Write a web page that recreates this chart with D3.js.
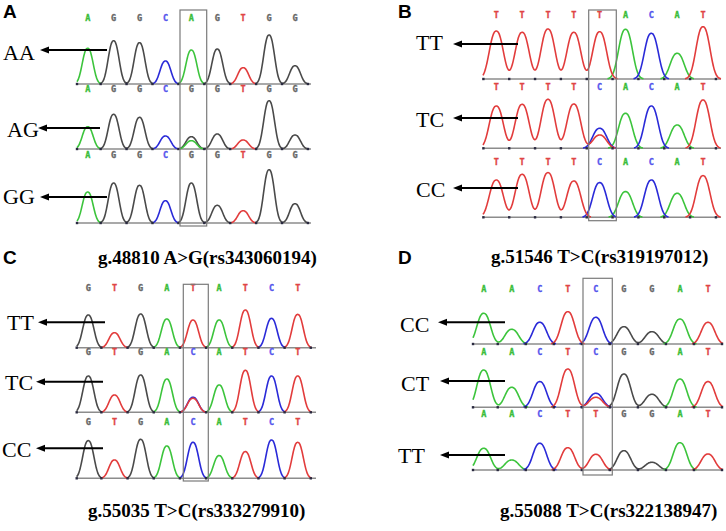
<!DOCTYPE html>
<html>
<head>
<meta charset="utf-8">
<script src="https://cdn.jsdelivr.net/npm/d3@7"></script>
<style>
  html, body { margin: 0; padding: 0; background: #fff; }
  svg { display: block; }
</style>
</head>
<body>
<svg id="chart" width="726" height="531"></svg>
<script>
// ---- data ----
const panelIds = ["A", "B", "C", "D"];
const captions = [
  "g.48810 A>G(rs343060194)",
  "g.51546 T>C(rs319197012)",
  "g.55035 T>C(rs333279910)",
  "g.55088 T>C(rs322138947)"
];
const genotypes = [
  ["AA", "AG", "GG"],
  ["TT", "TC", "CC"],
  ["TT", "TC", "CC"],
  ["CC", "CT", "TT"]
];
const baseCalls = [
  ["AGGCAGTGG", "AGGCGGTGG", "AGGCGGTGG"],
  ["TTTTTACAT", "TTTTCACAT", "TTTTCACAT"],
  ["GTGATATCT", "GTGACATCT", "GTGACATCT"],
  ["AACTCGGAT", "AACTCGGAT", "AACTTGGAT"]
];
// peak height of the called base, one value per base
const peakHeights = [
  [[35.7, 43.3, 41.3, 23, 34, 35, 16.3, 49, 18.3],
   [22.3, 34.7, 31.7, 13, 12.3, 15, 9, 48.3, 14],
   [31, 40, 37.7, 22.3, 40, 17.7, 12.3, 53.3, 19.3]],
  [[48, 46.7, 50, 46.7, 47.3, 49.7, 45.7, 25.7, 52.3],
   [42.3, 44, 49, 44.3, 20, 35, 42.3, 23.3, 48.3],
   [37.3, 43, 44.7, 36.3, 34.7, 25.7, 37.3, 24, 41.7]],
  [[32.7, 15, 33.7, 28.7, 27.7, 27.7, 37.7, 29.3, 33.3],
   [36.3, 17.3, 37.3, 33.3, 15, 27.3, 42, 36.3, 36.3],
   [37.7, 18.3, 39, 32.3, 36, 22.7, 26.7, 38.3, 36]],
  [[30.7, 14.7, 21.7, 32.3, 26.7, 17.3, 12.3, 25, 21.7],
   [37.3, 20, 25.7, 38.3, 14, 33.3, 13, 28.3, 25.7],
   [21.7, 10, 26.7, 22.3, 15.7, 19.3, 7.7, 27.3, 16]]
];
// second (minor) peak under the SNP in heterozygous rows
const minorPeaks = [
  [null, ["A", 8.3], null],
  [null, ["T", 13.3], null],
  [null, ["T", 14], null],
  [null, ["T", 10], null]
];
const snpIndex = 4;

// ---- layout (pixels) ----
const layout = [
  {x0: 87.7, x1: 295, t0: 77, t1: 311, width: 7,
   base: [84, 149, 223], letterY: [21, 92, 157.5], box: [180, 10, 206.7, 226],
   tag: [3, 18.3], cap: [98, 264],
   labels: [[3, 60], [7, 137], [3, 204]],
   arrows: [[107, 40, 50], [100, 38, 128], [107, 40, 197]]},
  {x0: 496.3, x1: 703, t0: 483, t1: 721, width: 9,
   base: [79, 148.3, 217.3], letterY: [18, 90, 165], box: [588.7, 10, 616.3, 220.7],
   tag: [398, 17.5], cap: [491, 263],
   labels: [[416, 50], [416, 126.7], [416, 197]],
   arrows: [[518, 453, 44], [518, 453, 118], [518, 453, 188]]},
  {x0: 88.3, x1: 297.7, t0: 76.7, t1: 316, width: 7.2,
   base: [347.7, 412.3, 478.3], letterY: [291, 355, 424.5], box: [183.3, 284.3, 208.3, 481],
   tag: [3, 263.5], cap: [88, 516.7],
   labels: [[7, 330], [5, 390], [2, 456.7]],
   arrows: [[105, 38, 322.3], [103, 36, 381.7], [103, 36, 448.3]]},
  {x0: 483.7, x1: 708, t0: 473, t1: 723, width: 8.8,
   base: [344, 407.3, 470], letterY: [291.5, 355, 416.5], box: [583, 278.3, 612.3, 475],
   tag: [398, 263.5], cap: [500, 516.7],
   labels: [[400, 331.7], [401, 391], [398, 463]],
   arrows: [[505, 438, 322.3], [505, 440, 381], [505, 440, 455]]}
];

const traceColor = {A: "#3cc43c", G: "#4a4a4a", C: "#2a2ad8", T: "#e23c3c"};
const letterColor = {A: "#3bbd3b", G: "#666666", C: "#5555ec", T: "#e04444"};

// shape of one dye peak: a flattened bell
function bell(d, w) {
  return Math.exp(-Math.pow(Math.abs(d) / w, 2.4));
}

const svg = d3.select("#chart");

panelIds.forEach((id, p) => {
  const L = layout[p];
  const g = svg.append("g").attr("class", "panel-" + id);
  const x = d3.scaleLinear().domain([0, 8]).range([L.x0, L.x1]);

  // panel tag
  g.append("text")
    .attr("x", L.tag[0]).attr("y", L.tag[1])
    .attr("font-family", "Liberation Sans, Arial, sans-serif")
    .attr("font-weight", "bold").attr("font-size", 19)
    .text(id);

  baseCalls[p].forEach((seq, r) => {
    const y = d3.scaleLinear().domain([0, 60]).range([L.base[r], L.base[r] - 60]);
    const bases = seq.split("");

    // all peaks of this row
    const peaks = bases.map((b, i) => ({base: b, i: i, h: peakHeights[p][r][i]}));
    if (minorPeaks[p][r]) peaks.push({base: minorPeaks[p][r][0], i: snpIndex, h: minorPeaks[p][r][1]});

    // base letters
    g.append("g").selectAll("text")
      .data(bases)
      .join("text")
      .attr("x", (d, i) => x(i))
      .attr("y", L.letterY[r])
      .attr("text-anchor", "middle")
      .attr("font-family", "DejaVu Sans Mono, monospace")
      .attr("font-weight", "bold")
      .attr("font-size", 8.5)
      .attr("fill", d => letterColor[d])
      .attr("stroke", d => letterColor[d])
      .attr("stroke-width", 0.35)
      .text(d => d);

    // baseline
    g.append("line")
      .attr("x1", L.t0).attr("x2", L.t1)
      .attr("y1", y(0)).attr("y2", y(0))
      .attr("stroke", "#8c8c8c").attr("stroke-width", 1.6);

    // one trace per dye channel, drawn where the signal is above baseline
    const xs = d3.range(L.t0, L.t1 + 0.01, 0.5);
    ["G", "A", "C", "T"].forEach(ch => {
      const chPeaks = peaks.filter(d => d.base === ch);
      if (!chPeaks.length) return;
      const pts = xs.map(px => ({
        px: px,
        v: d3.sum(chPeaks, d => d.h * bell(px - x(d.i), L.width))
      }));
      const line = d3.line()
        .defined(d => d.v > 0.25)
        .x(d => d.px)
        .y(d => y(d.v))
        .curve(d3.curveBasis);
      g.append("path")
        .datum(pts)
        .attr("fill", "none")
        .attr("stroke", traceColor[ch])
        .attr("stroke-width", 1.6)
        .attr("d", line);
    });

    // small marks where the trace meets the baseline
    const ticks = d3.range(-0.5, 8.6, 1).map(v => Math.min(Math.max(x(v), L.t0), L.t1));
    g.append("g").selectAll("rect")
      .data(ticks)
      .join("rect")
      .attr("x", d => d - 1.2).attr("y", y(0) - 1.2)
      .attr("width", 2.4).attr("height", 2.4)
      .attr("fill", "#2a2a40");

    // genotype label and arrow
    g.append("text")
      .attr("x", L.labels[r][0]).attr("y", L.labels[r][1])
      .attr("font-family", "Liberation Serif, Times New Roman, serif")
      .attr("font-size", 22)
      .text(genotypes[p][r]);

    const a = L.arrows[r];
    g.append("line")
      .attr("x1", a[0]).attr("x2", a[1] + 6)
      .attr("y1", a[2]).attr("y2", a[2])
      .attr("stroke", "#000").attr("stroke-width", 2);
    g.append("path")
      .attr("d", `M${a[1]},${a[2]} L${a[1] + 9},${a[2] - 3.5} L${a[1] + 9},${a[2] + 3.5} Z`)
      .attr("fill", "#000");
  });

  // box round the SNP position
  g.append("rect")
    .attr("x", L.box[0]).attr("y", L.box[1])
    .attr("width", L.box[2] - L.box[0]).attr("height", L.box[3] - L.box[1])
    .attr("fill", "none").attr("stroke", "#7a7a7a").attr("stroke-width", 1.2);

  // caption
  g.append("text")
    .attr("x", L.cap[0]).attr("y", L.cap[1])
    .attr("font-family", "Liberation Serif, Times New Roman, serif")
    .attr("font-weight", "bold").attr("font-size", 19)
    .text(captions[p]);
});
</script>
</body>
</html>
